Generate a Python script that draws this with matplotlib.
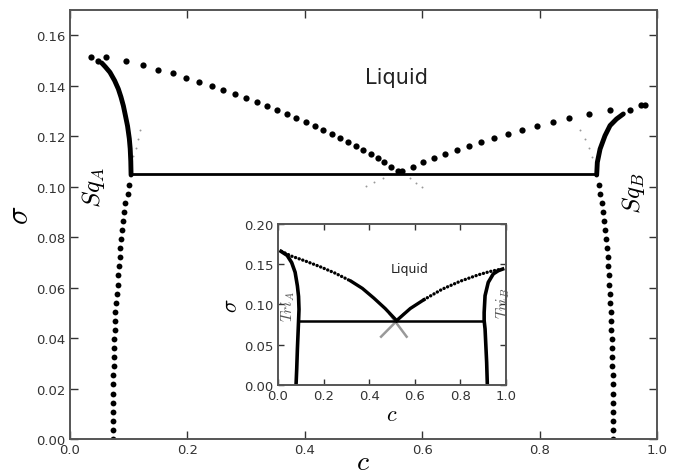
import matplotlib
matplotlib.use("Agg")
import matplotlib.pyplot as plt

plt.rcParams['mathtext.fontset'] = 'cm'

# ---------------- main panel data ----------------
# lower (solid) branches, sampled sigma levels
sig_low = [0.0000, 0.0036, 0.0072, 0.0108, 0.0144, 0.0180, 0.0216, 0.0252, 0.0288, 0.0324,
           0.0360, 0.0396, 0.0432, 0.0468, 0.0504, 0.0540, 0.0576, 0.0612, 0.0648, 0.0684,
           0.0720, 0.0756, 0.0792, 0.0828, 0.0864, 0.0900, 0.0936, 0.0972, 0.1008]
c_sqA_low = [0.0727, 0.0727, 0.0727, 0.0727, 0.0728, 0.0730, 0.0733, 0.0737, 0.0741, 0.0745,
             0.0749, 0.0754, 0.0759, 0.0765, 0.0772, 0.0784, 0.0797, 0.0810, 0.0823, 0.0835,
             0.0847, 0.0859, 0.0871, 0.0886, 0.0902, 0.0920, 0.0945, 0.0980, 0.1010]
c_sqB_low = [0.9256, 0.9255, 0.9253, 0.9251, 0.9249, 0.9247, 0.9245, 0.9243, 0.9240, 0.9237,
             0.9234, 0.9229, 0.9223, 0.9216, 0.9210, 0.9203, 0.9196, 0.9190, 0.9183, 0.9170,
             0.9158, 0.9146, 0.9130, 0.9112, 0.9093, 0.9073, 0.9055, 0.9035, 0.9015]

# upper dense solidus branches
c_sqA_up = [0.1040, 0.1035, 0.1025, 0.1010, 0.0980, 0.0945, 0.0909, 0.0868, 0.0823, 0.0760, 0.0680, 0.0600, 0.0540]
s_sqA_up = [0.1046, 0.1100, 0.1150, 0.1190, 0.1240, 0.1280, 0.1320, 0.1355, 0.1387, 0.1420, 0.1453, 0.1475, 0.1490]
c_sqB_up = [0.8972, 0.8983, 0.9030, 0.9114, 0.9200, 0.9310, 0.9426]
s_sqB_up = [0.1046, 0.1096, 0.1149, 0.1202, 0.1242, 0.1268, 0.1288]

# liquidus dots
c_liqA = [0.0352, 0.0483, 0.0608, 0.0954, 0.125, 0.150, 0.175, 0.1976, 0.219, 0.2414, 0.2612,
          0.2805, 0.2998, 0.318, 0.3356, 0.3526, 0.3691, 0.3855, 0.4015, 0.4168, 0.4316,
          0.4458, 0.460, 0.4736, 0.4867, 0.4997, 0.5122, 0.5242, 0.5355, 0.5468, 0.5582]
s_liqA = [0.1513, 0.1497, 0.1513, 0.1496, 0.1482, 0.1464, 0.1449, 0.1432, 0.1416, 0.1400, 0.1383,
          0.1366, 0.1351, 0.1336, 0.1320, 0.1304, 0.1288, 0.1272, 0.1256, 0.1241, 0.1225,
          0.1209, 0.1193, 0.1177, 0.1161, 0.1145, 0.1130, 0.1114, 0.1096, 0.1079, 0.1063]
c_liqB = [0.5661, 0.5838, 0.602, 0.620, 0.6394, 0.6593, 0.679, 0.700, 0.7229, 0.7456, 0.770,
          0.7956, 0.8223, 0.8500, 0.884, 0.920, 0.954, 0.972, 0.9796]
s_liqB = [0.1063, 0.1079, 0.1096, 0.1112, 0.1128, 0.1144, 0.1160, 0.1176, 0.1192, 0.1208, 0.1223,
          0.1239, 0.1255, 0.1272, 0.1288, 0.1305, 0.1305, 0.1324, 0.1324]

# grey metastable extensions
c_meta = [0.1193, 0.1153, 0.1119, 0.1079, 0.5043, 0.5184, 0.5337, 0.579, 0.5894, 0.599,
          0.8688, 0.8773, 0.8847, 0.890]
s_meta = [0.1226, 0.1189, 0.1153, 0.1120, 0.1001, 0.1017, 0.1034, 0.1033, 0.1014, 0.0997,
          0.1226, 0.1189, 0.1152, 0.1116]

tie_main_c = [0.102, 0.897]
tie_main_s = 0.105

# ---------------- inset data ----------------
ins_liqA_dot_c = [0.015, 0.06, 0.12, 0.184, 0.25, 0.32]
ins_liqA_dot_s = [0.166, 0.160, 0.154, 0.147, 0.139, 0.129]
ins_liqA_sol_c = [0.32, 0.37, 0.42, 0.47, 0.52]
ins_liqA_sol_s = [0.129, 0.120, 0.108, 0.095, 0.080]
ins_liqB_sol_c = [0.52, 0.58, 0.64]
ins_liqB_sol_s = [0.080, 0.095, 0.106]
ins_liqB_dot_c = [0.64, 0.72, 0.80, 0.88, 0.93, 0.98]
ins_liqB_dot_s = [0.106, 0.119, 0.129, 0.137, 0.141, 0.144]
ins_triA_c = [0.079, 0.082, 0.085, 0.090, 0.092, 0.090, 0.085, 0.075, 0.060, 0.040, 0.013]
ins_triA_s = [0.000, 0.020, 0.045, 0.079, 0.094, 0.110, 0.123, 0.140, 0.152, 0.161, 0.166]
ins_triB_c = [0.918, 0.915, 0.908, 0.904, 0.904, 0.908, 0.922, 0.944, 0.966, 0.985]
ins_triB_s = [0.000, 0.028, 0.0696, 0.080, 0.090, 0.111, 0.1275, 0.138, 0.142, 0.144]
ins_tie_c = [0.09, 0.905]
ins_tie_s = 0.080
ins_x1_c = [0.452, 0.55]
ins_x1_s = [0.060, 0.088]
ins_x2_c = [0.564, 0.49]
ins_x2_s = [0.060, 0.088]

W, H = 674, 477
fig = plt.figure(figsize=(6.74, 4.77), dpi=100)
ax = fig.add_axes([0.1039, 0.0776, 0.8709, 0.8994])

ax.plot(c_meta, s_meta, 'o', color='#999999', ms=1.4, mew=0)
ax.plot(tie_main_c, [tie_main_s, tie_main_s], '-', color='black', lw=2)
ax.plot(c_sqA_low, sig_low, 'o', color='black', ms=4.2, mew=0)
ax.plot(c_sqB_low, sig_low, 'o', color='black', ms=4.2, mew=0)
ax.plot(c_sqA_up, s_sqA_up, '-', color='black', lw=3.5, solid_capstyle='round')
ax.plot(c_sqB_up, s_sqB_up, '-', color='black', lw=3.5, solid_capstyle='round')
ax.plot(c_liqA, s_liqA, 'o', color='black', ms=4.5, mew=0)
ax.plot(c_liqB, s_liqB, 'o', color='black', ms=4.5, mew=0)

ax.set_xlim(0, 1)
ax.set_ylim(0, 0.17)
ax.set_xticks([0.0, 0.2, 0.4, 0.6, 0.8, 1.0])
ax.set_yticks([0.00, 0.02, 0.04, 0.06, 0.08, 0.10, 0.12, 0.14, 0.16])
ax.set_xticklabels(['0.0', '0.2', '0.4', '0.6', '0.8', '1.0'])
ax.set_yticklabels(['0.00', '0.02', '0.04', '0.06', '0.08', '0.10', '0.12', '0.14', '0.16'])
ax.tick_params(direction='in', length=6, width=1, top=True, right=True,
               labelsize=9.5, colors='#333333', pad=3)
for sp in ax.spines.values():
    sp.set_linewidth(1.4)
    sp.set_color('#555555')

# axis labels placed explicitly (centre positions in pixels)
fig.text(363 / W, 1 - 462 / H, r'$c$', fontsize=20, ha='center', va='center')
fig.text(20 / W, 1 - 215 / H, r'$\sigma$', fontsize=22, rotation=90, ha='center', va='center')

ax.text(0.556, 0.1433, 'Liquid', fontsize=15, ha='center', va='center', color='#222222')
ax.text(0.04, 0.0999, r'$Sq_A$', fontsize=18, rotation=90, ha='center', va='center')
ax.text(0.96, 0.0978, r'$Sq_B$', fontsize=18, rotation=90, ha='center', va='center')

# ---------------- inset ----------------
ai = fig.add_axes([0.4125, 0.1908, 0.3383, 0.3375])
ai.plot(ins_x1_c, ins_x1_s, '-', color='#999999', lw=1.8)
ai.plot(ins_x2_c, ins_x2_s, '-', color='#999999', lw=1.8)
ai.plot(ins_tie_c, [ins_tie_s, ins_tie_s], '-', color='black', lw=1.8)
dot_style = dict(color='black', lw=2.4, linestyle=(0, (0.05, 1.1)), dash_capstyle='round')
ai.plot(ins_liqA_dot_c, ins_liqA_dot_s, **dot_style)
ai.plot(ins_liqB_dot_c, ins_liqB_dot_s, **dot_style)
ai.plot(ins_liqA_sol_c, ins_liqA_sol_s, '-', color='black', lw=2.4)
ai.plot(ins_liqB_sol_c, ins_liqB_sol_s, '-', color='black', lw=2.4)
ai.plot(ins_triA_c, ins_triA_s, '-', color='black', lw=2.6)
ai.plot(ins_triB_c, ins_triB_s, '-', color='black', lw=2.6)

ai.set_xlim(0, 1)
ai.set_ylim(0, 0.2)
ai.set_xticks([0.0, 0.2, 0.4, 0.6, 0.8, 1.0])
ai.set_yticks([0.00, 0.05, 0.10, 0.15, 0.20])
ai.set_xticklabels(['0.0', '0.2', '0.4', '0.6', '0.8', '1.0'])
ai.set_yticklabels(['0.00', '0.05', '0.10', '0.15', '0.20'])
ai.tick_params(direction='in', length=4, width=1, top=True, right=True,
               labelsize=9.5, colors='#333333', pad=3)
for sp in ai.spines.values():
    sp.set_linewidth(1.4)
    sp.set_color('#555555')
ai.set_xlabel(r'$c$', fontsize=16)
ai.xaxis.set_label_coords(0.5, -0.12)
ai.set_ylabel(r'$\sigma$', fontsize=16)
ai.yaxis.set_label_coords(-0.16, 0.5)
ai.text(0.579, 0.145, 'Liquid', fontsize=9, ha='center', va='center', color='#222222')
ai.text(0.045, 0.0985, r'$Tri_A$', fontsize=11, rotation=90, ha='center', va='center', color='#555555')
ai.text(0.988, 0.103, r'$Tri_B$', fontsize=11, rotation=90, ha='center', va='center', color='#555555')

fig.savefig('out.png', dpi=100)
